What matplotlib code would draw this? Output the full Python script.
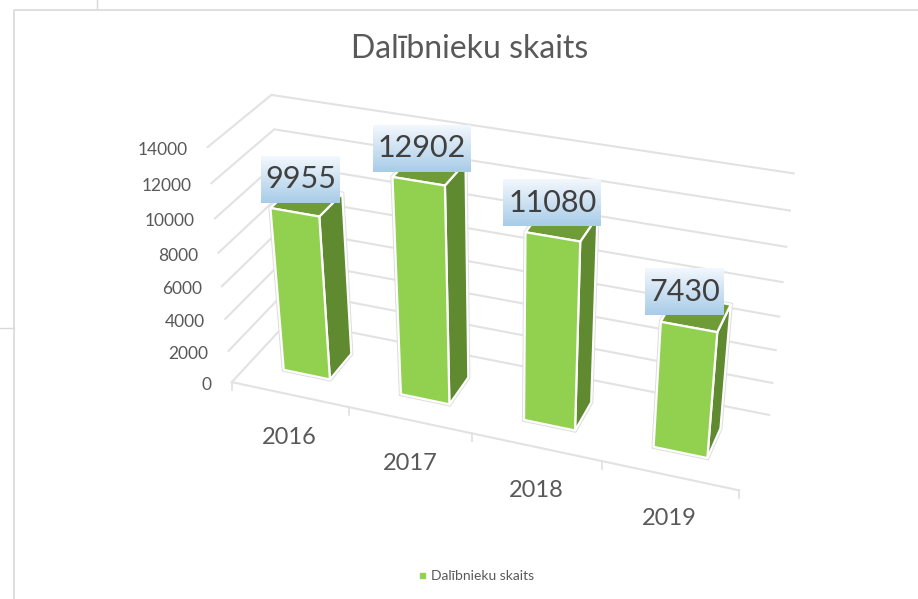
import numpy as np
import matplotlib
matplotlib.use("Agg")
import matplotlib.pyplot as plt
from matplotlib.lines import Line2D
from matplotlib.patches import Polygon

plt.rcParams['font.family'] = ['Lato', 'DejaVu Sans']

# === DATA ===
anni = ["2016", "2017", "2018", "2019"]
dalibnieki = [9955, 12902, 11080, 7430]
y_ticks = [0, 2000, 4000, 6000, 8000, 10000, 12000, 14000]
nosaukums = "Dalībnieku skaits"

# === CAMERA: where the chart frame sits in the picture ===
# (category pos, depth, value) -> pixel, fitted from axis corners and gridline ends
frame_world = [(0, 0, 0), (0, 0, 2000), (0, 0, 4000), (0, 0, 6000), (0, 0, 8000),
               (0, 0, 10000), (0, 0, 12000), (0, 0, 14000),
               (0, 1, 0), (0, 1, 12000), (0, 1, 14000),
               (4, 1, 0), (4, 1, 2000), (4, 1, 4000), (4, 1, 6000), (4, 1, 8000),
               (4, 1, 10000), (4, 1, 12000), (4, 1, 14000),
               (1, 0, 0), (3, 0, 0), (4, 0, 0)]
frame_px = [(233, 382), (229, 352), (226, 319), (222, 287), (218, 253),
            (215, 218), (210, 183), (207, 147),
            (287, 320), (275, 129), (273, 95),
            (769, 415), (773, 383), (776, 351), (779, 316), (783, 282),
            (786, 247), (790, 211), (793, 173),
            (349, 406), (602, 460), (739, 491)]


def fit_camera(world, px):
    rows = []
    for (x, d, v), (u, w) in zip(world, px):
        z = v / 14000
        rows.append([x, d, z, 1, 0, 0, 0, 0, -u * x, -u * d, -u * z, -u])
        rows.append([0, 0, 0, 0, x, d, z, 1, -w * x, -w * d, -w * z, -w])
    return np.linalg.svd(np.array(rows, dtype=float))[2][-1].reshape(3, 4)


P = fit_camera(frame_world, frame_px)


def project(x, d, v):
    p = P @ np.array([x, d, v / 14000, 1.0])
    return p[0] / p[2], p[1] / p[2]


# === FIGURE ===
fig = plt.figure(figsize=(9.18, 5.99), dpi=100)
ax = fig.add_axes([0, 0, 1, 1])
ax.set_xlim(0, 918)
ax.set_ylim(599, 0)
ax.axis("off")

# chart area border left over from the document
borde = "#d9d9d9"
ax.plot([14, 14, 918], [599, 10, 10], color=borde, lw=1.2, zorder=1)
ax.plot([97, 97], [0, 8], color=borde, lw=1.0, zorder=1)
ax.plot([0, 14], [328, 328], color=borde, lw=1.0, zorder=1)

# === GRIDLINES ===
color_grid = "#e2e2e2"
for v in y_ticks:
    pts = [project(4, 1, v), project(0, 1, v), project(0, 0, v)]
    ax.plot(*zip(*pts), color=color_grid, lw=1.5, zorder=2, solid_joinstyle="miter")
    fx, fy = project(0, 0, v)
    ax.text(fx - 20, fy + 3, str(v), ha="right", va="center", fontsize=12.5, color="#595959")

ax.plot(*zip(project(0, 0, 0), project(4, 0, 0)), color=color_grid, lw=1.5, zorder=2)
for i in range(len(anni) + 1):
    tx, ty = project(i, 0, 0)
    ax.plot([tx, tx], [ty, ty + 8], color=color_grid, lw=1.3, zorder=2)

# === BARS ===
ancho = (0.3, 0.7)
prof = (0.3, 0.7)
verde = "#92d050"
verde_lado = "#5f8a30"
verde_top = "#6f9c36"


def cara(puntos, color):
    ax.add_patch(Polygon(puntos, closed=True, facecolor=color, edgecolor="white",
                         lw=1.6, joinstyle="round", zorder=4))


for i, valor in enumerate(dalibnieki):
    x0, x1 = i + ancho[0], i + ancho[1]
    d0, d1 = prof
    # soft halo round the whole column
    halo = [project(x0, d0, 0), project(x1, d0, 0), project(x1, d1, 0), project(x1, d1, valor),
            project(x0, d1, valor), project(x0, d0, valor)]
    ax.add_patch(Polygon(halo, closed=True, facecolor="none", edgecolor="#dddddd", lw=3, zorder=3))
    cara([project(x1, d0, 0), project(x1, d1, 0), project(x1, d1, valor), project(x1, d0, valor)], verde_lado)
    cara([project(x0, d0, valor), project(x1, d0, valor), project(x1, d1, valor), project(x0, d1, valor)], verde_top)
    cara([project(x0, d0, 0), project(x1, d0, 0), project(x1, d0, valor), project(x0, d0, valor)], verde)

# === DATA LABELS WITH GRADIENT BOX ===
grad = np.linspace(0, 1, 64)[:, None, None]
grad = (1 - grad) * np.array([0.95, 0.97, 0.99]) + grad * np.array([0.66, 0.80, 0.91])
for i, valor in enumerate(dalibnieki):
    cx, cy = project(i + 0.5, 0.5, valor)
    cx -= 6 + 1.7 * i
    cy -= 21.5
    etiqueta = str(valor)
    w = 19 * len(etiqueta) + 3
    ax.imshow(grad, extent=(cx - w / 2, cx + w / 2, cy + 23.5, cy - 23.5), aspect="auto", zorder=6,
              interpolation="bilinear")
    ax.text(cx, cy, etiqueta, ha="center", va="center", fontsize=22, color="#404040", zorder=7)
ax.set_xlim(0, 918)
ax.set_ylim(599, 0)

# === CATEGORY LABELS ===
for i, anno in enumerate(anni):
    lx, ly = project(i + 0.5, 0, 0)
    ax.text(lx, ly + 43, anno, ha="center", va="center", fontsize=17, color="#595959")

ax.text(470, 49, nosaukums, ha="center", va="center", fontsize=23, color="#595959")

ax.legend(handles=[Line2D([], [], linestyle="none", marker="s", markersize=3.6, color=verde, label=nosaukums)],
          loc="center", bbox_to_anchor=(476 / 918, 1 - 576 / 599), frameon=False, fontsize=10,
          labelcolor="#595959", handlelength=0.6, handletextpad=0.3)

fig.savefig("out.png", dpi=100)
